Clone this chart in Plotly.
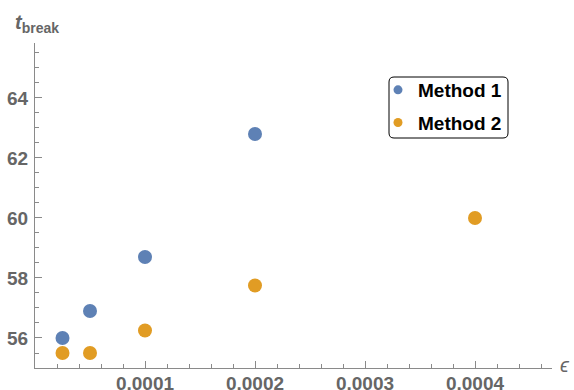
import plotly.graph_objects as go

eps = [0.000025, 0.00005, 0.0001, 0.0002]
t_method1 = [56.0, 56.9, 58.7, 62.8]
eps2 = [0.000025, 0.00005, 0.0001, 0.0002, 0.0004]
t_method2 = [55.5, 55.5, 56.25, 57.75, 60.0]

x_ticks = [0.0001, 0.0002, 0.0003, 0.0004]
x_ticktext = ["0.0001", "0.0002", "0.0003", "0.0004"]
y_ticks = [56, 58, 60, 62, 64]

blue = "#5E81B5"
orange = "#E19C24"
FONT = "Liberation Sans, Arial, sans-serif"
GRAY = "#666666"
AX = "#8a8a8a"

fig = go.Figure()
fig.add_trace(go.Scatter(x=eps, y=t_method1, mode="markers", showlegend=False,
                         marker=dict(color=blue, size=14)))
fig.add_trace(go.Scatter(x=eps2, y=t_method2, mode="markers", showlegend=False,
                         marker=dict(color=orange, size=14)))
fig.add_trace(go.Scatter(x=[None], y=[None], mode="markers", name="Method 1", legendgroup="a",
                         marker=dict(color=blue, size=9)))
fig.add_trace(go.Scatter(x=[None], y=[None], mode="markers", name="Method 2", legendgroup="b",
                         marker=dict(color=orange, size=9)))

L, R, T, B = 35, 22, 43, 22
W, H = 574, 390
pw, ph = W - L - R, H - T - B

bx0, bx1, by0, by1 = 389, 508, 77, 138
def px(x): return (x - L) / pw
def py(y): return (H - B - y) / ph
r = 5
path = (f"M {px(bx0+r)} {py(by0)} L {px(bx1-r)} {py(by0)} Q {px(bx1)} {py(by0)} {px(bx1)} {py(by0+r)} "
        f"L {px(bx1)} {py(by1-r)} Q {px(bx1)} {py(by1)} {px(bx1-r)} {py(by1)} "
        f"L {px(bx0+r)} {py(by1)} Q {px(bx0)} {py(by1)} {px(bx0)} {py(by1-r)} "
        f"L {px(bx0)} {py(by0+r)} Q {px(bx0)} {py(by0)} {px(bx0+r)} {py(by0)} Z")
fig.add_shape(type="path", path=path, xref="paper", yref="paper",
              line=dict(color="black", width=1), fillcolor="white", layer="below")

fig.update_layout(
    width=W, height=H,
    margin=dict(l=L, r=R, t=T, b=B, pad=0),
    template="none",
    plot_bgcolor="white", paper_bgcolor="white",
    font=dict(family=FONT, size=19, color=GRAY),
    showlegend=True,
    legend=dict(x=px(378), y=py(71), xanchor="left", yanchor="top",
                bgcolor="rgba(0,0,0,0)", borderwidth=0,
                font=dict(family=FONT, size=19, color="black", weight="bold"),
                itemsizing="trace", tracegroupgap=5),
    xaxis=dict(range=[0, 0.00047], showgrid=False, zeroline=False,
               showline=True, linecolor=AX, linewidth=1,
               tickvals=x_ticks, ticktext=x_ticktext,
               ticks="inside", ticklen=7, tickcolor=AX, tickwidth=1,
               tickfont=dict(family=FONT, size=19, color=GRAY, weight="bold"),
               minor=dict(dtick=0.00002, tick0=0, ticks="inside", ticklen=4, tickcolor=AX, showgrid=False),
               automargin=False, anchor="y", position=0, ticklabelstandoff=-2),
    yaxis=dict(range=[55.0, 65.83], showgrid=False, zeroline=False,
               showline=True, linecolor=AX, linewidth=1,
               tickvals=y_ticks,
               ticks="inside", ticklen=7, tickcolor=AX, tickwidth=1,
               tickfont=dict(family=FONT, size=19, color=GRAY, weight="bold"),
               minor=dict(dtick=0.5, tick0=0, ticks="inside", ticklen=4, tickcolor=AX, showgrid=False),
               automargin=False, ticklabelstandoff=2),
)

fig.add_annotation(x=1, y=0, xref="paper", yref="paper", xanchor="left", yanchor="middle",
                   xshift=6, yshift=3, text="<i>ϵ</i>", showarrow=False,
                   font=dict(family=FONT, size=20, color=GRAY))
fig.add_annotation(x=0, y=1, xref="paper", yref="paper", xanchor="center", yanchor="bottom",
                   xshift=2, yshift=5, text="<b><i>t</i></b><sub><b>break</b></sub>", showarrow=False,
                   font=dict(family=FONT, size=20, color=GRAY))

fig.write_html("out.html")
